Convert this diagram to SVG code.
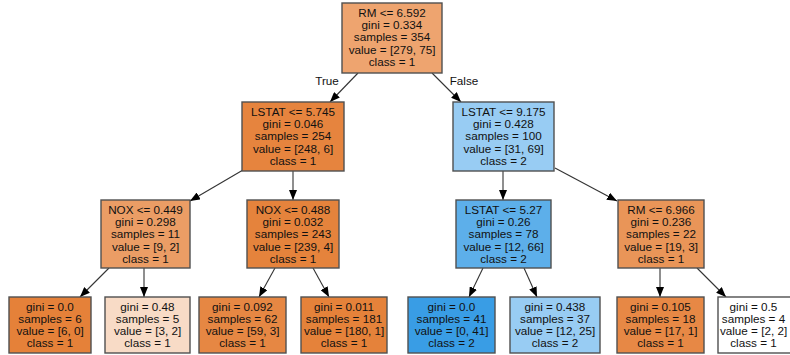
<svg xmlns="http://www.w3.org/2000/svg" width="790" height="355" viewBox="0 0 790 355">
<style>
.box{stroke:#505050;stroke-width:1.4}
text{font-family:"Liberation Sans",Arial,Helvetica,sans-serif;font-size:11.7px;fill:#111;text-anchor:middle}
.edge{stroke:#333;stroke-width:1.1;fill:none;marker-end:url(#arr)}
</style>
<defs>
<marker id="arr" markerUnits="userSpaceOnUse" markerWidth="10" markerHeight="8" refX="10" refY="4" orient="auto">
<path d="M0,0 L10,4 L0,8 z" fill="#000"/>
</marker>
</defs>
<rect width="790" height="355" fill="#fff"/>
<g id="edges">
<line class="edge" x1="358" y1="73" x2="330" y2="102"/>
<line class="edge" x1="432" y1="73" x2="461" y2="102"/>
<line class="edge" x1="243" y1="170" x2="190" y2="201"/>
<line class="edge" x1="293" y1="171" x2="293" y2="200"/>
<line class="edge" x1="503" y1="171" x2="503" y2="200"/>
<line class="edge" x1="555" y1="168" x2="617" y2="201"/>
<line class="edge" x1="109" y1="268" x2="80" y2="297"/>
<line class="edge" x1="144" y1="268" x2="144" y2="297"/>
<line class="edge" x1="275" y1="268" x2="259" y2="297"/>
<line class="edge" x1="313" y1="268" x2="329" y2="297"/>
<line class="edge" x1="483" y1="268" x2="469" y2="297"/>
<line class="edge" x1="524" y1="268" x2="537" y2="297"/>
<line class="edge" x1="660" y1="268" x2="660" y2="297"/>
<line class="edge" x1="697" y1="268" x2="726" y2="297"/>
<text x="327" y="85">True</text>
<text x="464" y="85">False</text>
</g>
<g id="n0">
<rect class="box" x="342" y="3" width="100" height="70" fill="#eea46f"/>
<text x="392" y="17">RM &lt;= 6.592</text>
<text x="392" y="29.2">gini = 0.334</text>
<text x="392" y="41.4">samples = 354</text>
<text x="392" y="53.6">value = [279, 75]</text>
<text x="392" y="65.8">class = 1</text>
</g>
<g id="n1">
<rect class="box" x="242" y="102" width="102" height="69" fill="#e6843e"/>
<text x="293" y="116">LSTAT &lt;= 5.745</text>
<text x="293" y="128.2">gini = 0.046</text>
<text x="293" y="140.4">samples = 254</text>
<text x="293" y="152.6">value = [248, 6]</text>
<text x="293" y="164.8">class = 1</text>
</g>
<g id="n8">
<rect class="box" x="453" y="102" width="101" height="69" fill="#98ccf3"/>
<text x="503.5" y="116">LSTAT &lt;= 9.175</text>
<text x="503.5" y="128.2">gini = 0.428</text>
<text x="503.5" y="140.4">samples = 100</text>
<text x="503.5" y="152.6">value = [31, 69]</text>
<text x="503.5" y="164.8">class = 2</text>
</g>
<g id="n2">
<rect class="box" x="101" y="200" width="89" height="68" fill="#eb9d65"/>
<text x="145.5" y="214">NOX &lt;= 0.449</text>
<text x="145.5" y="226.2">gini = 0.298</text>
<text x="145.5" y="238.4">samples = 11</text>
<text x="145.5" y="250.6">value = [9, 2]</text>
<text x="145.5" y="262.8">class = 1</text>
</g>
<g id="n5">
<rect class="box" x="247" y="200" width="92" height="68" fill="#e5833c"/>
<text x="293" y="214">NOX &lt;= 0.488</text>
<text x="293" y="226.2">gini = 0.032</text>
<text x="293" y="238.4">samples = 243</text>
<text x="293" y="250.6">value = [239, 4]</text>
<text x="293" y="262.8">class = 1</text>
</g>
<g id="n9">
<rect class="box" x="456" y="200" width="95" height="68" fill="#5dafea"/>
<text x="503.5" y="214">LSTAT &lt;= 5.27</text>
<text x="503.5" y="226.2">gini = 0.26</text>
<text x="503.5" y="238.4">samples = 78</text>
<text x="503.5" y="250.6">value = [12, 66]</text>
<text x="503.5" y="262.8">class = 2</text>
</g>
<g id="n12">
<rect class="box" x="618" y="200" width="86" height="68" fill="#e99558"/>
<text x="661" y="214">RM &lt;= 6.966</text>
<text x="661" y="226.2">gini = 0.236</text>
<text x="661" y="238.4">samples = 22</text>
<text x="661" y="250.6">value = [19, 3]</text>
<text x="661" y="262.8">class = 1</text>
</g>
<g id="n3">
<rect class="box" x="9" y="297" width="82" height="56" fill="#e58139"/>
<text x="50" y="311">gini = 0.0</text>
<text x="50" y="323">samples = 6</text>
<text x="50" y="335">value = [6, 0]</text>
<text x="50" y="347">class = 1</text>
</g>
<g id="n4">
<rect class="box" x="105" y="297" width="85" height="56" fill="#f8dbc6"/>
<text x="147.5" y="311">gini = 0.48</text>
<text x="147.5" y="323">samples = 5</text>
<text x="147.5" y="335">value = [3, 2]</text>
<text x="147.5" y="347">class = 1</text>
</g>
<g id="n6">
<rect class="box" x="199" y="297" width="87" height="56" fill="#e68743"/>
<text x="242.5" y="311">gini = 0.092</text>
<text x="242.5" y="323">samples = 62</text>
<text x="242.5" y="335">value = [59, 3]</text>
<text x="242.5" y="347">class = 1</text>
</g>
<g id="n7">
<rect class="box" x="301" y="297" width="86" height="56" fill="#e5823a"/>
<text x="344" y="311">gini = 0.011</text>
<text x="344" y="323">samples = 181</text>
<text x="344" y="335">value = [180, 1]</text>
<text x="344" y="347">class = 1</text>
</g>
<g id="n10">
<rect class="box" x="408" y="297" width="87" height="56" fill="#399de5"/>
<text x="451.5" y="311">gini = 0.0</text>
<text x="451.5" y="323">samples = 41</text>
<text x="451.5" y="335">value = [0, 41]</text>
<text x="451.5" y="347">class = 2</text>
</g>
<g id="n11">
<rect class="box" x="510" y="297" width="90" height="56" fill="#98ccf3"/>
<text x="555" y="311">gini = 0.438</text>
<text x="555" y="323">samples = 37</text>
<text x="555" y="335">value = [12, 25]</text>
<text x="555" y="347">class = 2</text>
</g>
<g id="n13">
<rect class="box" x="617" y="297" width="87" height="56" fill="#e78845"/>
<text x="660.5" y="311">gini = 0.105</text>
<text x="660.5" y="323">samples = 18</text>
<text x="660.5" y="335">value = [17, 1]</text>
<text x="660.5" y="347">class = 1</text>
</g>
<g id="n14">
<rect class="box" x="718" y="297" width="82" height="56" fill="#ffffff"/>
<text x="753.5" y="311">gini = 0.5</text>
<text x="753.5" y="323">samples = 4</text>
<text x="753.5" y="335">value = [2, 2]</text>
<text x="753.5" y="347">class = 1</text>
</g>
</svg>
